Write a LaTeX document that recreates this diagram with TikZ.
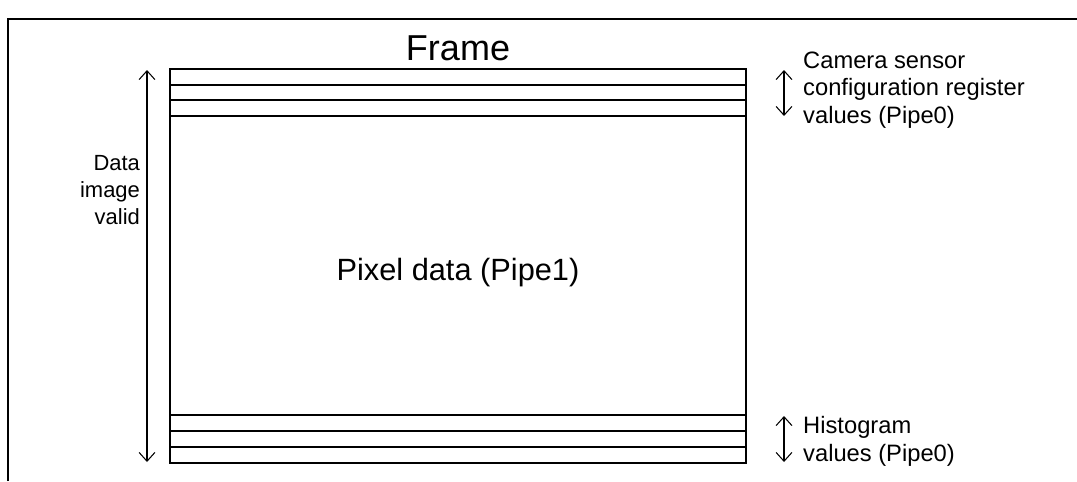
\documentclass[tikz,border=0pt]{standalone}
\usepackage{fontspec}
\setmainfont{Liberation Sans}
\usetikzlibrary{arrows.meta}
\begin{document}
\begin{tikzpicture}[x=0.02cm,y=-0.02cm,
  lbl/.style={font=\fontsize{13.5}{15.8}\selectfont,align=left,anchor=west},
  dbl/.style={{Straight Barb[length=5pt,width=9pt]}-{Straight Barb[length=5pt,width=9pt]},line width=0.6pt}]
\useasboundingbox (0,0) rectangle (1077,481);
\draw[line width=1.4pt] (8,481) -- (8,19) -- (1077,19);
\draw[line width=0.8pt] (170,69) rectangle (746,463);
\foreach \y in {85,100,116,415,431,447} \draw[line width=0.8pt] (170,\y) -- (746,\y);
\node[font=\fontsize{20.5}{24}\selectfont] (fr) at (458,48) {Frame};
\node[font=\fontsize{17.5}{20}\selectfont] (px) at (458,273) {Pixel data (Pipe1)};
\coordinate (la) at (147,70); \coordinate (lb) at (147,462);
\draw[dbl] (la) -- (lb);
\node[font=\fontsize{12.5}{15.3}\selectfont,align=right] (dv) at (110,190) {Data\\image\\valid};
\coordinate (ra) at (784,70); \coordinate (rb) at (784,116);
\draw[dbl] (ra) -- (rb);
\coordinate (rc) at (784,416); \coordinate (rd) at (784,462);
\draw[dbl] (rc) -- (rd);
\node[lbl] (cs) at (797,90) {Camera sensor\\configuration register\\values (Pipe0)};
\node[lbl] (hv) at (797,441) {Histogram\\values (Pipe0)};
\end{tikzpicture}
\end{document}
